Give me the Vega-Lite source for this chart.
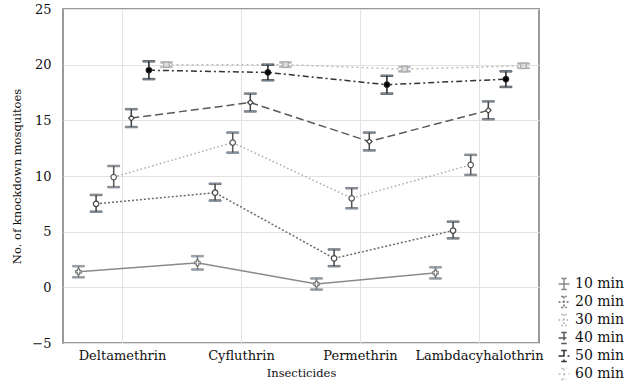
{
  "$schema": "https://vega.github.io/schema/vega-lite/v6.json",
  "autosize": {"type": "none"},
  "width": 476,
  "height": 334,
  "padding": {"left": 63, "top": 9, "right": 94, "bottom": 48},
  "background": "white",
  "config": {
    "font": "DejaVu Serif",
    "view": {"stroke": "#9a9a9a", "strokeWidth": 2},
    "axis": {"labelFont": "DejaVu Serif", "titleFont": "DejaVu Serif", "labelColor": "#111", "titleColor": "#111", "titleFontWeight": "normal", "labelFontSize": 13, "titleFontSize": 11.5, "gridColor": "#e2e2e2", "domain": false, "ticks": false},
    "legend": {"labelFont": "DejaVu Serif"}
  },
  "data": {
    "values": [
      {"Insecticide": "Deltamethrin", "Time": "10 min", "mean": 1.4, "lo": 0.9, "hi": 1.9},
      {"Insecticide": "Cyfluthrin", "Time": "10 min", "mean": 2.2, "lo": 1.6, "hi": 2.8},
      {"Insecticide": "Permethrin", "Time": "10 min", "mean": 0.3, "lo": -0.2, "hi": 0.8},
      {"Insecticide": "Lambdacyhalothrin", "Time": "10 min", "mean": 1.3, "lo": 0.8, "hi": 1.8},
      {"Insecticide": "Deltamethrin", "Time": "20 min", "mean": 7.5, "lo": 6.8, "hi": 8.3},
      {"Insecticide": "Cyfluthrin", "Time": "20 min", "mean": 8.5, "lo": 7.8, "hi": 9.3},
      {"Insecticide": "Permethrin", "Time": "20 min", "mean": 2.6, "lo": 1.9, "hi": 3.4},
      {"Insecticide": "Lambdacyhalothrin", "Time": "20 min", "mean": 5.1, "lo": 4.4, "hi": 5.9},
      {"Insecticide": "Deltamethrin", "Time": "30 min", "mean": 9.9, "lo": 9.0, "hi": 10.9},
      {"Insecticide": "Cyfluthrin", "Time": "30 min", "mean": 13.0, "lo": 12.1, "hi": 13.9},
      {"Insecticide": "Permethrin", "Time": "30 min", "mean": 8.0, "lo": 7.1, "hi": 8.9},
      {"Insecticide": "Lambdacyhalothrin", "Time": "30 min", "mean": 11.0, "lo": 10.1, "hi": 11.9},
      {"Insecticide": "Deltamethrin", "Time": "40 min", "mean": 15.2, "lo": 14.4, "hi": 16.0},
      {"Insecticide": "Cyfluthrin", "Time": "40 min", "mean": 16.6, "lo": 15.8, "hi": 17.4},
      {"Insecticide": "Permethrin", "Time": "40 min", "mean": 13.1, "lo": 12.3, "hi": 13.9},
      {"Insecticide": "Lambdacyhalothrin", "Time": "40 min", "mean": 15.9, "lo": 15.1, "hi": 16.7},
      {"Insecticide": "Deltamethrin", "Time": "50 min", "mean": 19.5, "lo": 18.7, "hi": 20.3},
      {"Insecticide": "Cyfluthrin", "Time": "50 min", "mean": 19.3, "lo": 18.6, "hi": 20.0},
      {"Insecticide": "Permethrin", "Time": "50 min", "mean": 18.2, "lo": 17.4, "hi": 19.0},
      {"Insecticide": "Lambdacyhalothrin", "Time": "50 min", "mean": 18.7, "lo": 18.0, "hi": 19.4},
      {"Insecticide": "Deltamethrin", "Time": "60 min", "mean": 20.0, "lo": 19.8, "hi": 20.2},
      {"Insecticide": "Cyfluthrin", "Time": "60 min", "mean": 20.0, "lo": 19.8, "hi": 20.2},
      {"Insecticide": "Permethrin", "Time": "60 min", "mean": 19.6, "lo": 19.4, "hi": 19.8},
      {"Insecticide": "Lambdacyhalothrin", "Time": "60 min", "mean": 19.9, "lo": 19.7, "hi": 20.1}
    ]
  },
  "encoding": {
    "x": {"field": "Insecticide", "type": "nominal", "sort": ["Deltamethrin", "Cyfluthrin", "Permethrin", "Lambdacyhalothrin"], "scale": {"paddingInner": 0, "paddingOuter": 0}, "axis": {"title": "Insecticides", "labelAngle": 0, "labelPadding": 6, "titlePadding": 5, "grid": true, "bandPosition": 0.5}},
    "xOffset": {"field": "Time", "type": "nominal", "scale": {"paddingInner": 0, "paddingOuter": 0.38}}
  },
  "layer": [
    {
      "mark": {"type": "line", "strokeWidth": 1.5},
      "encoding": {
        "y": {"field": "mean", "type": "quantitative", "scale": {"domain": [-5, 25], "nice": false}, "axis": {"title": "No. of knockdown mosquitoes", "values": [-5, 0, 5, 10, 15, 20, 25], "labelPadding": 12, "titlePadding": 9}},
        "color": {"field": "Time", "type": "nominal", "scale": {"range": ["#8a8a8a", "#6a6a6a", "#aaaaaa", "#5a5a5a", "#333333", "#bbbbbb"]}, "legend": {"title": null, "orient": "none", "legendX": 494, "legendY": 268, "labelFontSize": 14, "labelColor": "#111", "symbolType": "M-1,0H1M-0.5,-1H0.5M0,-1V1M-0.5,1H0.5", "symbolSize": 120, "symbolStrokeWidth": 1.5, "rowPadding": 0, "labelOffset": 4}},
        "strokeDash": {"field": "Time", "type": "nominal", "scale": {"range": [[1, 0], [2, 2], [1.5, 2.5], [8, 4], [6, 3, 2, 3], [2, 3]]}, "legend": null}
      }
    },
    {
      "mark": {"type": "rule", "strokeWidth": 1.5},
      "encoding": {
        "y": {"field": "lo", "type": "quantitative"},
        "y2": {"field": "hi"},
        "stroke": {"field": "Time", "type": "nominal", "scale": {"range": ["#777777", "#444444", "#555555", "#444444", "#222222", "#aaaaaa"]}, "legend": null}
      }
    },
    {
      "mark": {"type": "tick", "size": 12, "thickness": 1.5},
      "encoding": {
        "y": {"field": "lo", "type": "quantitative"},
        "stroke": {"field": "Time", "type": "nominal", "legend": null}
      }
    },
    {
      "mark": {"type": "tick", "size": 12, "thickness": 1.5},
      "encoding": {
        "y": {"field": "hi", "type": "quantitative"},
        "stroke": {"field": "Time", "type": "nominal", "legend": null}
      }
    },
    {
      "mark": {"type": "point", "size": 30, "strokeWidth": 1.2, "opacity": 1},
      "encoding": {
        "y": {"field": "mean", "type": "quantitative"},
        "shape": {"field": "Time", "type": "nominal", "scale": {"range": ["cross", "circle", "circle", "diamond", "circle", "square"]}, "legend": null},
        "fill": {"field": "Time", "type": "nominal", "scale": {"range": ["#ffffff", "#ffffff", "#ffffff", "#ffffff", "#000000", "#dddddd"]}, "legend": null},
        "stroke": {"field": "Time", "type": "nominal", "legend": null}
      }
    }
  ]
}
